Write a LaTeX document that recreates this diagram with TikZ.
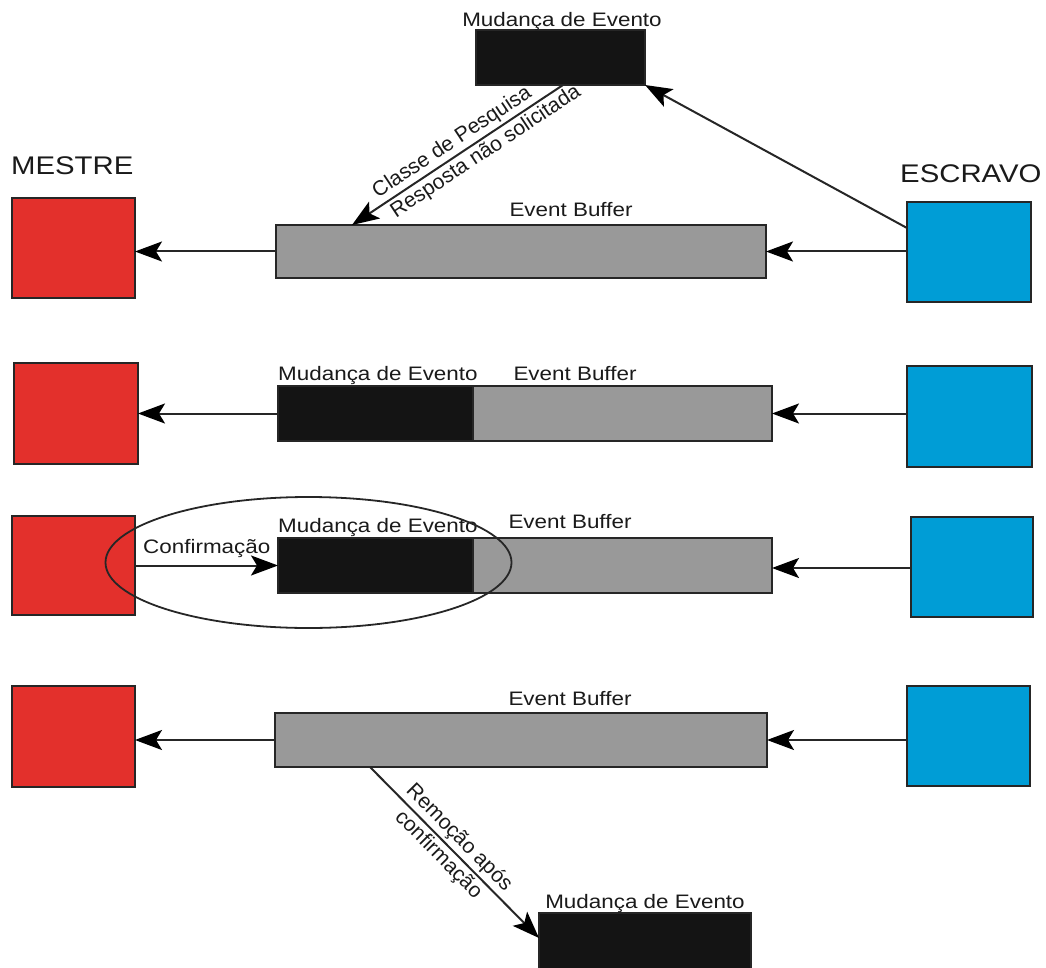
\documentclass[tikz,border=0pt]{standalone}
\usepackage{fontspec}
\setmainfont{Liberation Sans}[FakeStretch=1.15]
\newfontfamily\slopefont{Liberation Sans}
\usetikzlibrary{arrows.meta,calc,shapes.geometric}
\definecolor{mred}{HTML}{E3302C}
\definecolor{sblue}{HTML}{009DD6}
\definecolor{bufgray}{HTML}{999999}
\definecolor{evblack}{HTML}{141414}
\definecolor{edge}{HTML}{262626}
\definecolor{txt}{HTML}{1A1A1A}
\begin{document}
\begin{tikzpicture}[x=1pt,y=-1pt,
  box/.style={draw=edge, line width=1.8pt, inner sep=0pt, outer sep=0pt},
  mestre/.style={box, fill=mred},
  escravo/.style={box, fill=sblue},
  buffer/.style={box, fill=bufgray},
  evento/.style={box, fill=evblack},
  lbl/.style={inner sep=0pt, text=txt, font=\fontsize{19.5}{22}\selectfont},
  biglbl/.style={inner sep=0pt, text=txt, font=\fontsize{25.5}{28}\selectfont},
  tag/.style={inner sep=2.5pt, sloped, text=txt, font=\slopefont\fontsize{21}{24}\selectfont},
  arr/.style={draw=edge, line width=2pt,
    -{Stealth[length=27pt,width=20pt,inset=6pt,fill=black,color=black]}}
]
\useasboundingbox (0,0) rectangle (1046,968);

% ---- row 1: unsolicited response ----
\node[mestre, minimum width=123pt, minimum height=100pt] (m1) at (73.5,248) {};
\node[escravo, minimum width=124pt, minimum height=100pt] (s1) at (969,252) {};
\node[buffer, minimum width=490pt, minimum height=53pt] (bar1) at (521,251.5) {};
\node[evento, minimum width=169pt, minimum height=55pt] (bk1) at (560.5,57.5) {};
\node[biglbl, anchor=base west] (tmestre) at (11,175) {MESTRE};
\node[biglbl, anchor=base west] (tescravo) at (900,183) {ESCRAVO};
\node[lbl, anchor=base] (teb1) at (571,217) {Event Buffer};
\node[lbl, anchor=base] (tbk1) at (562,27) {Mudança de Evento};

\coordinate (q1) at ($(bar1.north west)+(76,0)$);
\coordinate (p1) at ($(s1.north west)+(0,26)$);
\draw[arr] (s1.west |- bar1.east) -- (bar1.east);
\draw[arr] (bar1.west) -- (bar1.west -| m1.east);
\draw[arr] (p1) -- (bk1.south east);
\draw[arr] ($(bk1.south)+(2.5,0)$) -- (q1)
  node[tag, above, pos=0.49] (tcp) {Classe de Pesquisa}
  node[tag, below, pos=0.40] (trn) {Resposta não solicitada};

% ---- row 2: event stored in the buffer ----
\node[mestre, minimum width=124pt, minimum height=101pt] (m2) at (76,413.5) {};
\node[escravo, minimum width=125pt, minimum height=101pt] (s2) at (969.5,416.5) {};
\node[buffer, minimum width=494pt, minimum height=55pt] (bar2) at (525,413.5) {};
\node[evento, minimum width=195pt, minimum height=55pt] (blk2) at (375.5,413.5) {};
\node[lbl, anchor=base west] (tbk2) at (278,380) {Mudança de Evento};
\node[lbl, anchor=base] (teb2) at (575,380) {Event Buffer};
\draw[arr] (s2.west |- bar2.east) -- (bar2.east);
\draw[arr] (bar2.west) -- (bar2.west -| m2.east);

% ---- row 3: confirmation ----
\node[mestre, minimum width=123pt, minimum height=99pt] (m3) at (73.5,565.5) {};
\node[escravo, minimum width=122pt, minimum height=100pt] (s3) at (972,567) {};
\node[buffer, minimum width=494pt, minimum height=55pt] (bar3) at (525,565.5) {};
\node[evento, minimum width=195pt, minimum height=55pt] (blk3) at (375.5,565.5) {};
\node[lbl, anchor=base west] (tbk3) at (278,532) {Mudança de Evento};
\node[lbl, anchor=base] (teb3) at (570,528) {Event Buffer};
\node[lbl, anchor=base west] (tconf) at (143,553) {Confirmação};
\draw[arr] (s3.west |- 0,568) -- (bar3.east |- 0,568);
\draw[arr] (m3.east |- blk3.west) -- (blk3.west);
\node[draw=edge, line width=1.8pt, ellipse, inner sep=0pt,
      minimum width=406pt, minimum height=131pt] (ring) at (308.5,562.5) {};

% ---- row 4: removal after confirmation ----
\node[mestre, minimum width=123pt, minimum height=101pt] (m4) at (73.5,736.5) {};
\node[escravo, minimum width=123pt, minimum height=100pt] (s4) at (968.5,736) {};
\node[buffer, minimum width=492pt, minimum height=54pt] (bar4) at (521,740) {};
\node[evento, minimum width=212pt, minimum height=62pt] (bk4) at (645,944) {};
\node[lbl, anchor=base] (teb4) at (570,705) {Event Buffer};
\node[lbl, anchor=base] (tbk4) at (645,908) {Mudança de Evento};
\draw[arr] (s4.west |- bar4.east) -- (bar4.east);
\draw[arr] (bar4.west) -- (bar4.west -| m4.east);
\coordinate (q4) at ($(bar4.south west)+(95,0)$);
\coordinate (p4) at ($(bk4.north west)+(0,25)$);
\draw[arr] (q4) -- (p4)
  node[tag, above, pos=0.47] (trem) {Remoção após}
  node[tag, below, pos=0.46] (tconf2) {confirmação};
\end{tikzpicture}
\end{document}
